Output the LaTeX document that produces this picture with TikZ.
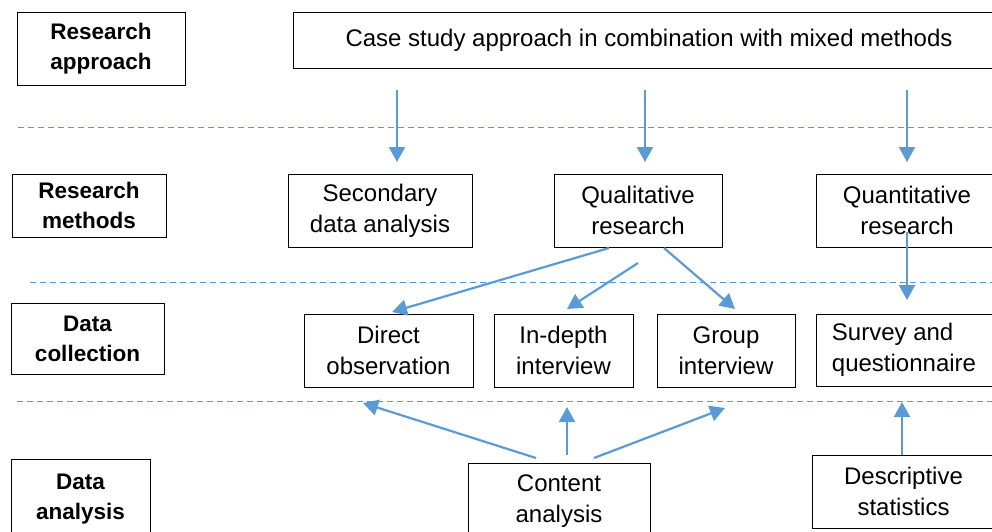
\documentclass[tikz,border=0pt]{standalone}
\usepackage{fontspec}
\setmainfont{Liberation Sans}
\usetikzlibrary{arrows.meta}
\definecolor{arrowblue}{HTML}{5B9BD5}
\tikzset{
  box/.style={draw=black, line width=0.9pt, inner sep=0pt, align=center,
    font=\fontsize{24}{31}\selectfont},
  label/.style={draw=black, line width=0.9pt, inner sep=0pt, align=center,
    font=\fontsize{22.5}{30}\selectfont\bfseries},
  arr/.style={draw=arrowblue, line width=2.2pt, -{Triangle[length=15pt,width=16pt]}},
  sep/.style={draw=arrowblue, line width=0.9pt, dash pattern=on 6pt off 4pt},
}
\begin{document}
\begin{tikzpicture}[x=1pt,y=-1pt]
\useasboundingbox (0,0) rectangle (992,531);
\clip (0,0) rectangle (992,531);
% separators
\coordinate (s1a) at (18,127); \coordinate (s1b) at (992,127);
\coordinate (s2a) at (30,282); \coordinate (s2b) at (992,282);
\coordinate (s3a) at (17,401); \coordinate (s3b) at (992,401);
\draw[sep] (s1a) -- (s1b);
\draw[sep] (s2a) -- (s2b);
\draw[sep] (s3a) -- (s3b);
% left labels
\node[label, minimum width=168, minimum height=73] (la) at (101,48.5) {Research\\approach};
\node[label, minimum width=154, minimum height=63] (lm) at (89,205.5) {Research\\methods};
\node[label, minimum width=153, minimum height=71] (lc) at (87.5,338.5) {Data\\collection};
\node[label, minimum width=139, minimum height=81] (ld) at (80.5,499.5) {Data\\analysis};
% top
\node[box, minimum width=712, minimum height=56] (top) at (649,40) {Case study approach in combination with mixed methods};
% methods
\node[box, minimum width=184, minimum height=73] (sec) at (380,210.5) {Secondary\\data analysis};
\node[box, minimum width=168, minimum height=73] (qual) at (638,210.5) {Qualitative\\research};
\node[box, minimum width=182, minimum height=73] (quan) at (907,210.5) {Quantitative\\research};
% collection
\node[box, minimum width=169, minimum height=73] (dir) at (388.5,350.5) {Direct\\observation};
\node[box, minimum width=139, minimum height=73] (ind) at (563.5,350.5) {In-depth\\interview};
\node[box, minimum width=138, minimum height=73] (grp) at (726,350.5) {Group\\interview};
\node[box, minimum width=176, minimum height=72, align=left] (sur) at (904,350) {Survey and\\questionnaire};
% analysis
\node[box, minimum width=182, minimum height=76] (con) at (559,501) {Content\\analysis};
\node[box, minimum width=183, minimum height=73] (des) at (903.5,491.5) {Descriptive\\statistics};
% arrow coordinates
\coordinate (t1) at (397,90); \coordinate (h1) at (397,162);
\coordinate (t2) at (645,90); \coordinate (h2) at (645,162);
\coordinate (t3) at (907,90); \coordinate (h3) at (907,162);
\coordinate (q1) at (609,248); \coordinate (d1) at (392,312);
\coordinate (q2) at (638,263); \coordinate (d2) at (567,309);
\coordinate (q3) at (664,248); \coordinate (d3) at (735,309);
\coordinate (q4) at (907,232); \coordinate (d4) at (907,300);
\coordinate (c1) at (536,458); \coordinate (e1) at (363,403);
\coordinate (c2) at (567,455); \coordinate (e2) at (567,407);
\coordinate (c3) at (594,458); \coordinate (e3) at (725,408);
\coordinate (c4) at (902,455); \coordinate (e4) at (902,402);
\draw[arr] (t1) -- (h1);
\draw[arr] (t2) -- (h2);
\draw[arr] (t3) -- (h3);
\draw[arr] (q1) -- (d1);
\draw[arr] (q2) -- (d2);
\draw[arr] (q3) -- (d3);
\draw[arr] (q4) -- (d4);
\draw[arr] (c1) -- (e1);
\draw[arr] (c2) -- (e2);
\draw[arr] (c3) -- (e3);
\draw[arr] (c4) -- (e4);
\end{tikzpicture}
\end{document}
